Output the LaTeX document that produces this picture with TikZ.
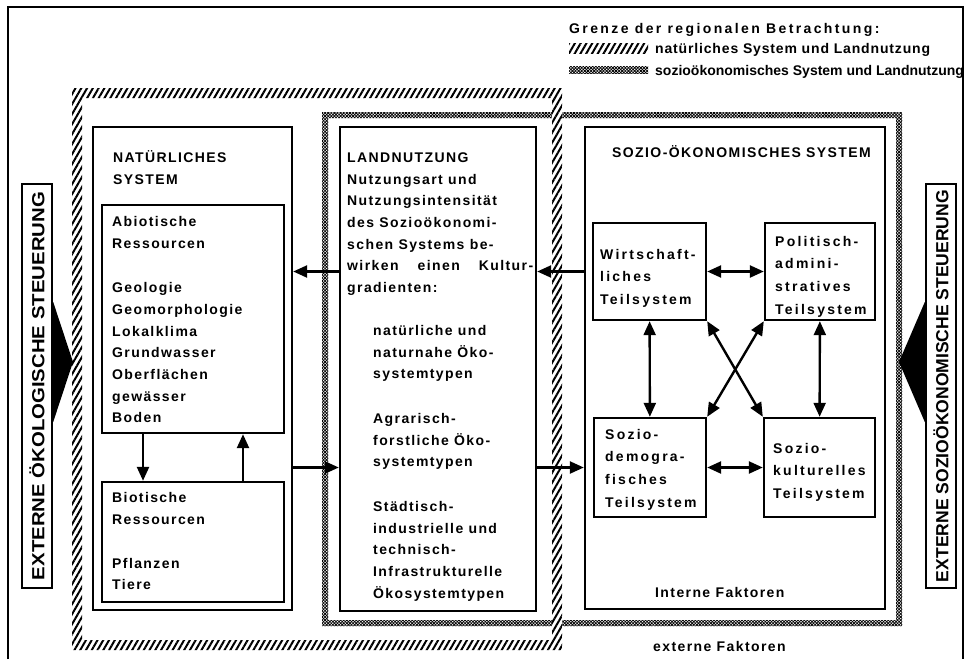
\documentclass[tikz,border=0pt]{standalone}
\usepackage{fontspec}
\setmainfont{Liberation Sans}
\newfontfamily\bodyfont[LetterSpace=10]{Liberation Sans}
\newfontfamily\subfont[LetterSpace=16]{Liberation Sans}
\newfontfamily\titlefont[LetterSpace=17]{Liberation Sans}
\newfontfamily\natfont[LetterSpace=6]{Liberation Sans}
\usepackage{graphicx}
\usetikzlibrary{arrows.meta,patterns.meta}

\begin{document}
\begin{tikzpicture}[x=1pt,y=-1pt,
    box/.style={draw,line width=2.4pt,fill=white,inner sep=0pt},
    arr/.style={line width=2.4pt,-{Triangle[length=14pt,width=12pt]}},
    dbl/.style={line width=2.4pt,{Triangle[length=14pt,width=12pt]}-{Triangle[length=14pt,width=12pt]}},
    txt/.style={anchor=north west,inner sep=0pt,align=left,font=\bodyfont\bfseries\fontsize{14}{21.7}\selectfont},
    subtxt/.style={txt,font=\subfont\bfseries\fontsize{14}{22.8}\selectfont},
    leg/.style={anchor=base west,inner sep=0pt,font=\bfseries\fontsize{14}{17}\selectfont},
    hatch/.style={pattern={Lines[angle=60,distance=5pt,line width=2pt]}},
    crossa/.style={pattern={Lines[angle=45,distance=2.2pt,line width=0.8pt]}},
    crossb/.style={pattern={Lines[angle=-45,distance=2.2pt,line width=0.8pt]}}]
    \useasboundingbox (0,0) rectangle (967,659);

    % frame
    \draw[line width=1.4pt] (8,659) -- (8,7) -- (963,7) -- (963,659);

    % legend
    \node[leg] (legtitle) at (569,33) {\titlefont\bfseries Grenze der regionalen Betrachtung:};
    \fill[hatch] (569,43) rectangle (648,53);
    \node[leg] (legnat) at (655,53) {\natfont\bfseries natürliches System und Landnutzung};
    \fill[crossa] (569,66) rectangle (648,73);
    \fill[crossb] (569,66) rectangle (648,73);
    \node[leg] (legsoz) at (655,75) {sozioökonomisches System und Landnutzung};

    % boundaries
    \fill[crossa,even odd rule] (322,112) rectangle (902,626) (328,118) rectangle (896,620);
    \fill[crossb,even odd rule] (322,112) rectangle (902,626) (328,118) rectangle (896,620);
    \fill[white,even odd rule] (72,88) rectangle (562,650) (82,98) rectangle (552,640);
    \fill[hatch,even odd rule] (72,88) rectangle (562,650) (82,98) rectangle (552,640);

    % boxes
    \node[box,minimum width=199pt,minimum height=483pt] (nat) at (192.5,368.5) {};
    \node[box,minimum width=182pt,minimum height=228pt] (abio) at (193,319) {};
    \node[box,minimum width=182pt,minimum height=120pt] (bio) at (193,542) {};
    \node[box,minimum width=196pt,minimum height=484pt] (land) at (438,369) {};
    \node[box,minimum width=300pt,minimum height=482pt] (sozio) at (735,368) {};
    \node[box,minimum width=113pt,minimum height=97pt] (wirt) at (649.5,271.5) {};
    \node[box,minimum width=110pt,minimum height=97pt] (pol) at (820,271.5) {};
    \node[box,minimum width=112pt,minimum height=99pt] (demo) at (650,467.5) {};
    \node[box,minimum width=111pt,minimum height=99pt] (kult) at (819.5,467.5) {};
    \node[box,minimum width=30pt,minimum height=404pt] (extl) at (37,386) {};
    \node[box,minimum width=30pt,minimum height=404pt] (extr) at (941,386) {};

    % texts
    \node[txt] (natt) at (113,147) {\strut NATÜRLICHES\\SYSTEM};
    \node[txt] (abiot) at (112,211) {\strut Abiotische\\Ressourcen\\[23pt]Geologie\\Geomorphologie\\Lokalklima\\Grundwasser\\Oberflächen\\gewässer\\Boden};
    \node[txt] (biot) at (112,487) {\strut Biotische\\Ressourcen\\[22.3pt]Pflanzen\\Tiere};
    \node[txt] (landt) at (347,147) {\strut LANDNUTZUNG\\Nutzungsart und\\Nutzungsintensität\\des Sozioökonomi-\\schen Systems be-\\\makebox[186pt][s]{wirken einen Kultur-}\\gradienten:};
    \node[txt] (landl) at (373,320) {\strut natürliche und\\naturnahe Öko-\\systemtypen\\[23pt]Agrarisch-\\forstliche Öko-\\systemtypen\\[23pt]Städtisch-\\industrielle und\\technisch-\\Infrastrukturelle\\Ökosystemtypen};
    \node[txt] (sozt) at (612,142) {\strut SOZIO-ÖKONOMISCHES SYSTEM};
    \node[subtxt] (wirtt) at (600,243) {\strut Wirtschaft-\\liches\\Teilsystem};
    \node[subtxt] (polt) at (775,230) {\strut Politisch-\\admini-\\stratives\\Teilsystem};
    \node[subtxt] (demot) at (605,423) {\strut Sozio-\\demogra-\\fisches\\Teilsystem};
    \node[subtxt] (kultt) at (773,437) {\strut Sozio-\\kulturelles\\Teilsystem};
    \node[txt] (intern) at (655,582) {\strut Interne Faktoren};
    \node[txt] (extern) at (653,636) {\strut externe Faktoren};
    \node[rotate=90,inner sep=0pt] (extlt) at (extl.center) {\resizebox{388pt}{15pt}{\bfseries EXTERNE ÖKOLOGISCHE STEUERUNG}};
    \node[rotate=90,inner sep=0pt] (extrt) at (extr.center) {\resizebox{392pt}{15pt}{\bfseries EXTERNE SOZIOÖKONOMISCHE STEUERUNG}};

    % steering wedges
    \coordinate (ltip) at (73,362);
    \coordinate (rtip) at (899,362);
    \fill (extl.east |- 0,302) -- (ltip) -- (extl.east |- 0,422) -- cycle;
    \fill (extr.west |- 0,302) -- (rtip) -- (extr.west |- 0,422) -- cycle;

    % arrows
    \draw[arr] ([xshift=-50pt]abio.south) -- ([xshift=-50pt]bio.north);
    \draw[arr] ([xshift=50pt]bio.north) -- ([xshift=50pt]abio.south);
    \draw[arr] (sozio.west |- wirt.west) -- (land.east |- wirt.west);
    \draw[arr] (land.west |- wirt.west) -- (nat.east |- wirt.west);
    \draw[arr] (nat.east |- demo.west) -- (land.west |- demo.west);
    \draw[arr] (land.east |- demo.west) -- (sozio.west |- demo.west);
    \draw[dbl] (wirt) -- (pol);
    \draw[dbl] (demo) -- (kult);
    \draw[dbl] (wirt) -- (demo);
    \draw[dbl] (pol) -- (kult);
    \draw[dbl] (wirt.south east) -- (kult.north west);
    \draw[dbl] (pol.south west) -- (demo.north east);
\end{tikzpicture}
\end{document}
